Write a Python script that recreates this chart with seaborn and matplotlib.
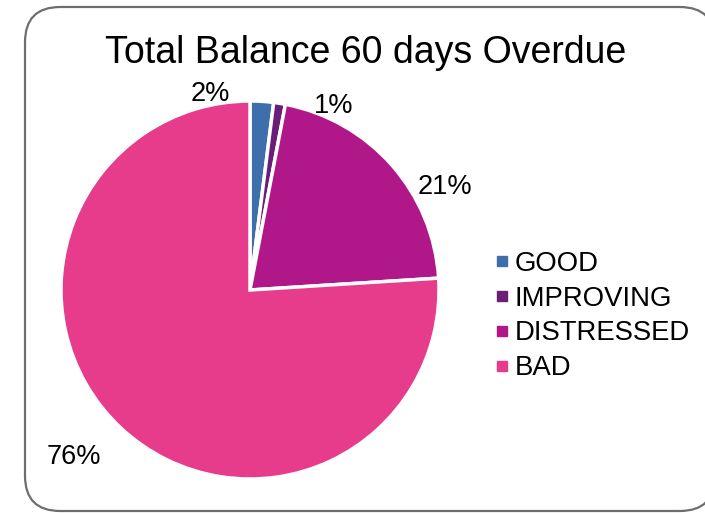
import matplotlib
matplotlib.use("Agg")
import matplotlib.pyplot as plt
import seaborn as sns
from matplotlib.patches import FancyBboxPatch
from matplotlib.lines import Line2D

sns.set_theme(style="white")
plt.rcParams["font.family"] = ["Liberation Sans", "DejaVu Sans"]
plt.rcParams["text.color"] = "black"

categories = ["GOOD", "IMPROVING", "DISTRESSED", "BAD"]
shares = [2, 1, 21, 76]
colors = ["#3F6EAC", "#6B1E78", "#B0188A", "#E63C8B"]
# label offsets (in pie radius units) for each percentage
label_pos = [(-0.21, 1.035), (0.44, 0.975), (1.03, 0.545), (-0.93, -0.885)]

W, H = 705, 513
fig = plt.figure(figsize=(W / 100, H / 100), dpi=100)

# rounded chart frame
frame = FancyBboxPatch((25 / W, 2 / H), (W + 10 - 25) / W, (H - 9) / H,
                       boxstyle="round,pad=0,rounding_size=0.05",
                       transform=fig.transFigure, facecolor="white",
                       edgecolor="#6E6E6E", linewidth=1.6, mutation_aspect=W / H,
                       zorder=-10)
fig.patches.append(frame)

r_px = 189
cx, cy = 250, 290
ax = fig.add_axes([(cx - r_px) / W, (H - cy - r_px) / H, 2 * r_px / W, 2 * r_px / H])
ax.set_facecolor("none")
ax.set_zorder(5)

wedges, _ = ax.pie(shares, colors=colors, startangle=90, counterclock=False,
                   wedgeprops=dict(edgecolor="white", linewidth=2.5))
ax.set_xlim(-1, 1)
ax.set_ylim(-1, 1)
ax.set_aspect("equal")
ax.axis("off")

for v, (dx, dy) in zip(shares, label_pos):
    ax.text(dx, dy, f"{v}%", ha="center", va="center", fontsize=19.5,
            color="black", clip_on=False)

fig.text(366 / W, 1 - 53 / H, "Total Balance 60 days Overdue", ha="center",
         va="center", fontsize=27, color="black")

handles = [Line2D([0], [0], marker="s", linestyle="none", markersize=7.5,
                  markerfacecolor=c, markeredgecolor=c) for c in colors]
leg = fig.legend(handles, categories, loc="center left",
                 bbox_to_anchor=(480 / W, 1 - 316 / H), frameon=False,
                 fontsize=19.8, handlelength=0.6, handletextpad=0.15,
                 labelspacing=0.32, borderpad=0)
for t in leg.get_texts():
    t.set_color("black")

fig.savefig("out.png", dpi=100)
